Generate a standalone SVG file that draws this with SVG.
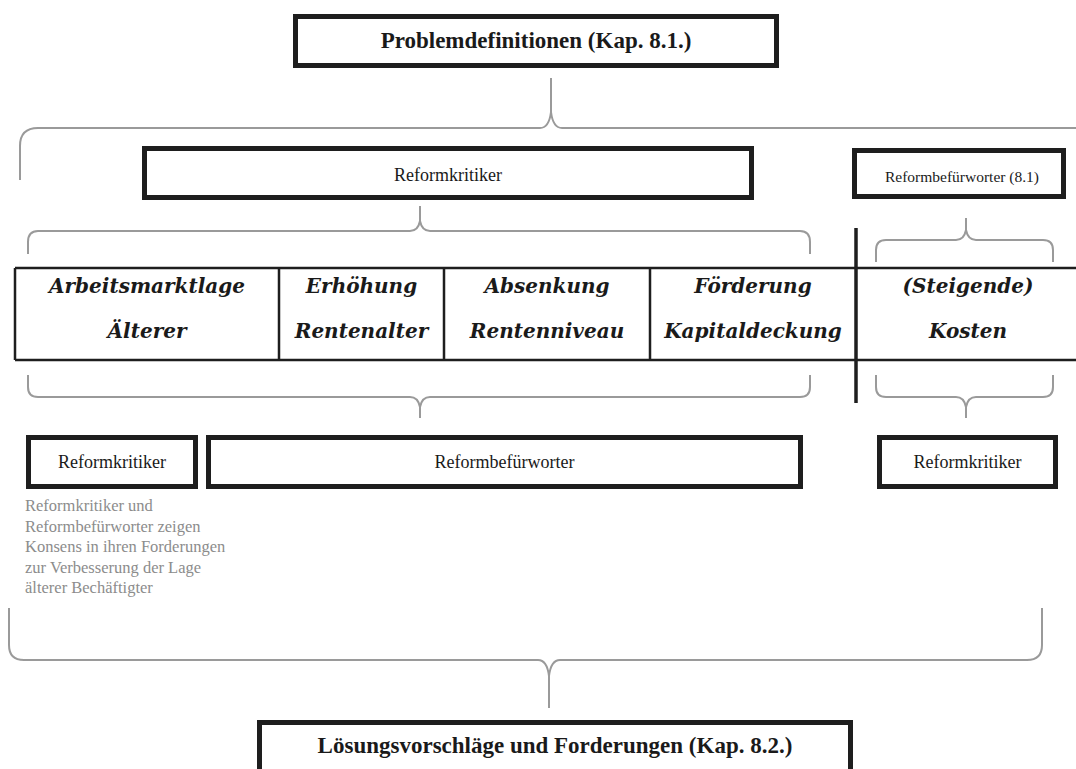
<svg xmlns="http://www.w3.org/2000/svg" width="1076" height="769" viewBox="0 0 1076 769">
<style>
.box{fill:#fff;stroke:#1e1e1e;stroke-width:5}
.brace{fill:none;stroke:#9a9a9a;stroke-width:2}
.grid{fill:none;stroke:#1e1e1e;stroke-width:2.5}
.title{font-family:"Liberation Serif",serif;font-weight:bold;font-size:23px;text-anchor:middle;fill:#1a1a1a}
.lbl{font-family:"Liberation Serif",serif;font-size:18px;text-anchor:middle;fill:#1a1a1a}
.cell{font-family:"DejaVu Serif",serif;font-weight:bold;font-style:italic;font-size:20px;text-anchor:middle;fill:#1a1a1a}
.note{font-family:"Liberation Serif",serif;font-size:16.5px;fill:#8c8c8c}
</style>
<rect width="1076" height="769" fill="#fff"/>
<g id="connectors">
<path class="brace" d="M20,180 V146 Q20,128 38,128 H540 Q549,128 551,112 V78 M551,112 Q553,128 562,128 H1080"/>
<path class="brace" d="M28,254 V242 Q28,231 38,231 H410 Q418,231 420,221 V206 M420,221 Q422,231 430,231 H800 Q810,231 810,242 V254"/>
<path class="brace" d="M876,262 V250 Q876,240 886,240 H956 Q964,240 966,230 V218 M966,230 Q968,240 976,240 H1043 Q1053,240 1053,250 V262"/>
<path class="brace" d="M28,375 V387 Q28,397 38,397 H410 Q418,397 420,407 V418 M420,407 Q422,397 430,397 H800 Q810,397 810,387 V375"/>
<path class="brace" d="M876,375 V387 Q876,397 886,397 H956 Q964,397 966,407 V418 M966,407 Q968,397 976,397 H1043 Q1053,397 1053,387 V375"/>
<path class="brace" d="M9,608 V645 Q9,660 24,660 H538 Q547,660 549,676 V708 M549,676 Q551,660 560,660 H1027 Q1042,660 1042,645 V608"/>
</g>
<g id="table">
<path class="grid" d="M15,268 H1076 M15,360 H1076 M15,268 V360 M279,268 V360 M444,268 V360 M650,268 V360"/>
<line x1="856" y1="228" x2="856" y2="403" stroke="#1e1e1e" stroke-width="3.5"/>
</g>
<g id="n-problem"><rect class="box" x="295.5" y="16.5" width="481" height="49"/><text class="title" x="536" y="48">Problemdefinitionen (Kap. 8.1.)</text></g>
<g id="n-kritiker-top"><rect class="box" x="144.5" y="148.5" width="607" height="49"/><text class="lbl" x="448" y="181">Reformkritiker</text></g>
<g id="n-befuerworter-top"><rect class="box" x="854.5" y="150.5" width="209" height="46"/><text class="lbl" x="962" y="182" style="font-size:15.5px">Reformbefürworter (8.1)</text></g>
<g id="c-arbeitsmarkt"><text class="cell" x="147" y="293">Arbeitsmarktlage</text><text class="cell" x="147" y="338">Älterer</text></g>
<g id="c-rentenalter"><text class="cell" x="361.5" y="293">Erhöhung</text><text class="cell" x="361.5" y="338">Rentenalter</text></g>
<g id="c-rentenniveau"><text class="cell" x="547" y="293">Absenkung</text><text class="cell" x="547" y="338">Rentenniveau</text></g>
<g id="c-kapital"><text class="cell" x="753" y="293">Förderung</text><text class="cell" x="753" y="338">Kapitaldeckung</text></g>
<g id="c-kosten"><text class="cell" x="968" y="293">(Steigende)</text><text class="cell" x="968" y="338">Kosten</text></g>
<g id="n-kritiker-bl"><rect class="box" x="28.5" y="437.5" width="167" height="49"/><text class="lbl" x="112" y="468">Reformkritiker</text></g>
<g id="n-befuerworter-bm"><rect class="box" x="208.5" y="437.5" width="592" height="49"/><text class="lbl" x="504.5" y="468">Reformbefürworter</text></g>
<g id="n-kritiker-br"><rect class="box" x="879.5" y="437.5" width="176" height="49"/><text class="lbl" x="967.5" y="468">Reformkritiker</text></g>
<g id="note">
<text class="note" x="25" y="511">Reformkritiker und</text>
<text class="note" x="25" y="531.5">Reformbefürworter zeigen</text>
<text class="note" x="25" y="552">Konsens in ihren Forderungen</text>
<text class="note" x="25" y="572.5">zur Verbesserung der Lage</text>
<text class="note" x="25" y="593">älterer Bechäftigter</text>
</g>
<g id="n-loesung"><rect class="box" x="259.5" y="722.5" width="591" height="60"/><text class="title" x="555" y="753">Lösungsvorschläge und Forderungen (Kap. 8.2.)</text></g>
</svg>
